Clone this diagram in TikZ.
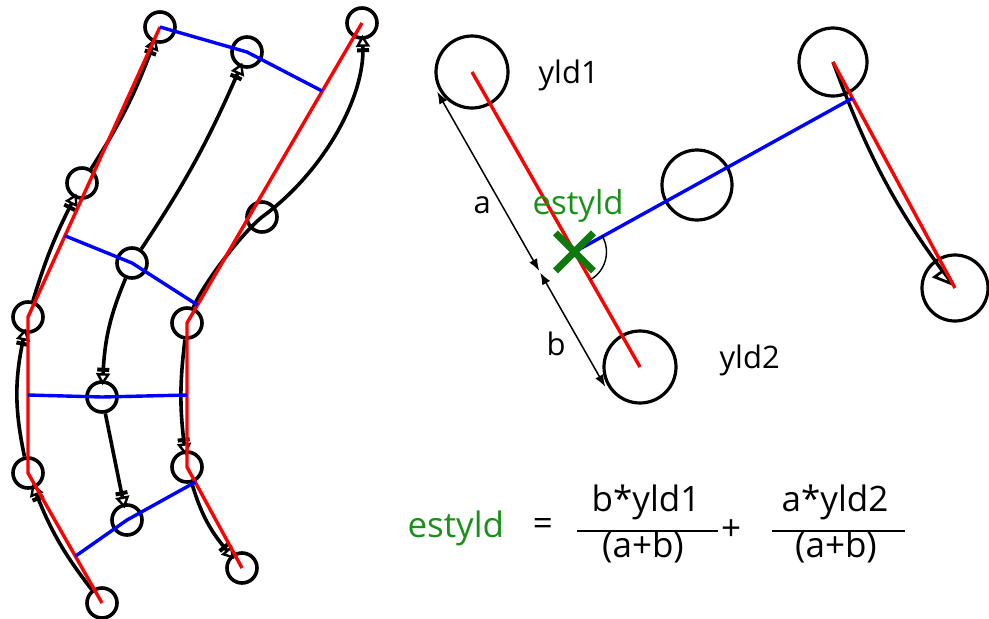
\documentclass[tikz,border=0pt]{standalone}
\usepackage{fontspec}
\setmainfont{Open Sans}
\usetikzlibrary{arrows.meta,calc}
\definecolor{grn}{RGB}{25,145,25}
\definecolor{xgrn}{RGB}{15,120,15}
\newcommand{\myLab}{\fontsize{31}{36}\selectfont}
\newcommand{\myForm}{\fontsize{35}{40}\selectfont}
\begin{document}
\begin{tikzpicture}[x=1pt,y=-1pt,
  lc/.style={circle,draw,line width=3.6pt,minimum size=30pt,inner sep=0pt},
  rc/.style={circle,draw,line width=3.2pt,minimum size=#1,inner sep=0pt},
  redl/.style={red,line width=3.4pt},
  bluel/.style={blue,line width=3.4pt},
  track/.style={line width=3.6pt,
    -{Rectangle[open,length=4pt,width=12pt,line width=2.4pt,sep=1.5pt]Triangle[open,length=12pt,width=14pt,line width=2.4pt]},
    shorten >=-5pt},
  rtrack/.style={line width=3.4pt,-{Triangle[open,harpoon,swap,length=20pt,width=24pt,line width=2.8pt]}},
  dimarrow/.style={line width=1.5pt,{Latex[length=12pt,width=9pt]}-{Latex[length=12pt,width=9pt]}},
  lab/.style={anchor=base west,font=\myLab},
  frm/.style={font=\myForm}
]
\useasboundingbox (0,0) rectangle (989,619);

% ---------- left panel: circles
\node[lc] (A1) at (160,27) {};
\node[lc] (A2) at (82,183) {};
\node[lc] (A3) at (28,317) {};
\node[lc] (A4) at (28,473) {};
\node[lc] (A5) at (102,603) {};
\node[lc] (B1) at (247,52) {};
\node[lc] (B2) at (132,263) {};
\node[lc] (B3) at (102,397) {};
\node[lc] (B4) at (127,520) {};
\node[lc] (C1) at (362,23) {};
\node[lc] (C2) at (262,217) {};
\node[lc] (C3) at (187,323) {};
\node[lc] (C4) at (187,467) {};
\node[lc] (C5) at (242,568) {};

% ---------- left panel: tracks
\draw[track] (A5) to[bend left=8] (A4);
\draw[track] (A4) to[bend left=12] (A3);
\draw[track] (A3) to[bend left=5] (A2);
\draw[track] (A2) to[bend right=6] (A1);
\draw[track] (B2) to[bend right=5] (B1);
\draw[track] (B2) to[bend right=10] (B3);
\draw[track] (B3) to (B4);
\draw[track] (C3) .. controls (202,286) and (239,236) .. (C2.center)
                  .. controls (320,175) and (365,100) .. (C1);
\draw[track] (C3) to[bend right=7] (C4);
\draw[track] (C4) to[bend right=12] (C5);

% ---------- left panel: red and blue
\draw[redl] (A1.center) -- (A3.center) -- (A4.center) -- (A5.center);
\draw[redl] (C1.center) -- (C3.center) -- (C4.center) -- (C5.center);
\draw[bluel] (A1.center) -- (B1.center) -- ($(C1)!0.227!(C3)$);
\draw[bluel] ($(A1)!0.72!(A3)$) -- (B2.center) -- ($(C1)!0.94!(C3)$);
\draw[bluel] ($(A3)!0.5!(A4)$) -- (B3.center) -- ($(C3)!0.5!(C4)$);
\draw[bluel] ($(A4)!0.64!(A5)$) -- (B4.center) -- ($(C4)!0.15!(C5)$);

% ---------- right panel
\node[rc=72pt] (Y1) at (472,72) {};
\node[rc=72pt] (Y2) at (640,367) {};
\node[rc=70pt] (M) at (697,185) {};
\node[rc=68pt] (TR) at (833,62) {};
\node[rc=66pt] (BR) at (955,288) {};
\coordinate (X) at ($(Y1)!0.61!(Y2)$);
\coordinate (P) at ($(TR)!0.16!(BR)$);

\draw[rtrack] (TR.center) to[bend right=8] (BR.center);
\draw[redl] (Y1.center) -- (Y2.center);
\draw[redl] (TR.center) -- (BR.center);
\draw[bluel] (X) -- (P);
\draw[line width=1.4pt] ($(X)+(30:32pt)$) arc[start angle=30,end angle=-60,radius=32pt];
\draw[xgrn,line width=7pt] ($(X)+(-19,-19)$) -- ($(X)+(19,19)$)
                           ($(X)+(-19,19)$) -- ($(X)+(19,-19)$);

\coordinate (D1) at ($(Y1)!40pt!-90:(Y2)$);
\coordinate (Dm) at ($(X)!40pt!-90:(Y2)$);
\coordinate (D2) at ($(Y2)!40pt!90:(Y1)$);
\draw[dimarrow,shorten >=1pt] (D1) -- (Dm);
\draw[dimarrow,shorten <=1pt] (Dm) -- (D2);

\node[lab] (ly1) at (535,83) {yld1};
\node[lab] (ly2) at (716,368) {yld2};
\node[lab] (la) at (470,213) {a};
\node[lab] (lb) at (543,355) {b};
\node[lab,text=grn,font=\fontsize{33}{38}\selectfont] (lest) at (529,214) {estyld};

% ---------- formula
\node[anchor=base west,frm,text=grn] (fe) at (404,537) {estyld};
\node[frm] (feq) at (543,527) {=};
\node[anchor=base,frm] (n1) at (646,511) {b*yld1};
\node[anchor=base,frm] (q1) at (643,557) {(a+b)};
\draw[line width=2.2pt] (577,531) -- (718,531);
\node[frm] (pl) at (731,530) {+};
\node[anchor=base,frm] (n2) at (835,511) {a*yld2};
\node[anchor=base,frm] (q2) at (836,557) {(a+b)};
\draw[line width=2.2pt] (772,531) -- (905,531);
\end{tikzpicture}
\end{document}
